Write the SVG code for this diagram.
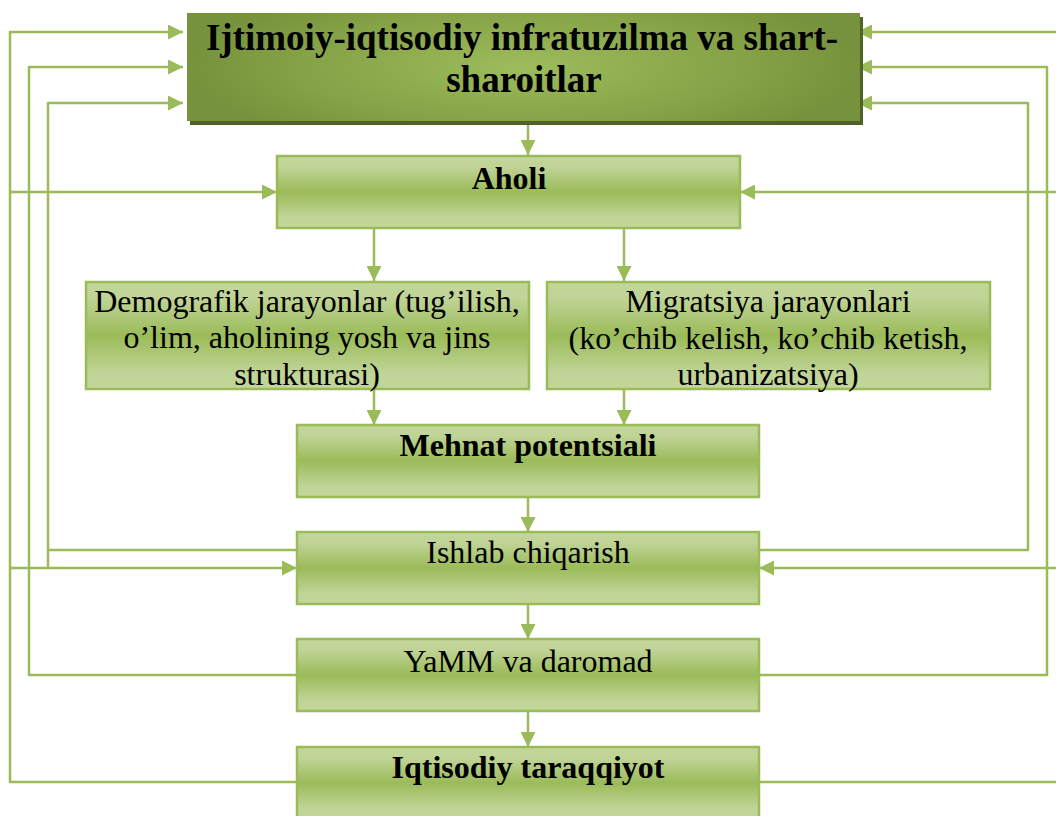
<svg xmlns="http://www.w3.org/2000/svg" width="1056" height="816" viewBox="0 0 1056 816">
<style>
.box{fill:url(#g);stroke:#9bbb59;stroke-width:2.5}
.t{font-family:"Liberation Serif","Times New Roman",serif;font-size:32px;fill:#000;text-anchor:middle}
.b{font-weight:bold}
.c{fill:none;stroke:#9bbb59;stroke-width:2.5;stroke-linejoin:round}
.a{marker-end:url(#ah)}
</style>
<defs>
<linearGradient id="g" x1="0" y1="0" x2="0" y2="1">
<stop offset="0" stop-color="#c3d69b"/>
<stop offset="0.15" stop-color="#c0d497"/>
<stop offset="0.5" stop-color="#9bbb59"/>
<stop offset="0.85" stop-color="#c0d497"/>
<stop offset="1" stop-color="#c3d69b"/>
</linearGradient>
<radialGradient id="rg" cx="0.5" cy="0.5" r="0.5" gradientTransform="translate(0.5,0.5) scale(1,1.6) translate(-0.5,-0.5)">
<stop offset="0" stop-color="#9dbc5c"/>
<stop offset="0.6" stop-color="#87a548"/>
<stop offset="1" stop-color="#76923c"/>
</radialGradient>
<marker id="ah" markerUnits="userSpaceOnUse" markerWidth="15" markerHeight="15" refX="15" refY="7.5" orient="auto">
<path d="M0,0 L15,7.5 L0,15 z" fill="#9bbb59"/>
</marker>
</defs>

<g id="connectors">
<path class="c a" d="M528,121 V155"/>
<path class="c a" d="M374,228 V281"/>
<path class="c a" d="M624,228 V281"/>
<path class="c a" d="M374,389 V425"/>
<path class="c a" d="M624,389 V425"/>
<path class="c a" d="M528,497 V532"/>
<path class="c a" d="M528,604 V639"/>
<path class="c a" d="M528,711 V747"/>
<!-- left -->
<path class="c a" d="M297,782 H10 V32 H183"/>
<path class="c a" d="M10,192 H277"/>
<path class="c a" d="M10,568 H297"/>
<path class="c a" d="M297,675 H29 V67 H183"/>
<path class="c" d="M297,550 H48"/>
<path class="c a" d="M48,568 V103 H183"/>
<!-- right -->
<path class="c a" d="M1058,32 H857"/>
<path class="c a" d="M1058,192 H740"/>
<path class="c a" d="M1058,568 H759"/>
<path class="c" d="M759,782 H1058"/>
<path class="c a" d="M759,675 H1047 V67 H857"/>
<path class="c a" d="M759,550 H1028 V103 H857"/>
</g>

<g id="n-infra">
<rect x="190" y="17" width="673" height="108" fill="#4f6228"/>
<rect x="187" y="13" width="673" height="108" fill="url(#rg)"/>
<text class="t b" x="522" y="50" font-size="37" style="font-size:37px">Ijtimoiy-iqtisodiy infratuzilma va shart-</text>
<text class="t b" x="524" y="92" style="font-size:37px">sharoitlar</text>
</g>

<g id="n-aholi">
<rect class="box" x="277" y="156" width="463" height="72"/>
<text class="t b" x="509" y="189">Aholi</text>
</g>

<g id="n-demografik">
<rect class="box" x="86" y="282" width="443" height="107"/>
<text class="t" x="307" y="312">Demografik jarayonlar (tug’ilish,</text>
<text class="t" x="307" y="348">o’lim, aholining yosh va jins</text>
<text class="t" x="307" y="385">strukturasi)</text>
</g>

<g id="n-migratsiya">
<rect class="box" x="547" y="282" width="443" height="107"/>
<text class="t" x="768" y="312">Migratsiya jarayonlari</text>
<text class="t" x="768" y="349">(ko’chib kelish, ko’chib ketish,</text>
<text class="t" x="768" y="385">urbanizatsiya)</text>
</g>

<g id="n-mehnat">
<rect class="box" x="297" y="425" width="462" height="72"/>
<text class="t b" x="528" y="456">Mehnat potentsiali</text>
</g>

<g id="n-ishlab">
<rect class="box" x="297" y="532" width="462" height="72"/>
<text class="t" x="528" y="563">Ishlab chiqarish</text>
</g>

<g id="n-yamm">
<rect class="box" x="297" y="639" width="462" height="72"/>
<text class="t" x="528" y="672">YaMM va daromad</text>
</g>

<g id="n-iqtisodiy">
<rect class="box" x="297" y="747" width="462" height="72"/>
<text class="t b" x="528" y="778">Iqtisodiy taraqqiyot</text>
</g>
</svg>
